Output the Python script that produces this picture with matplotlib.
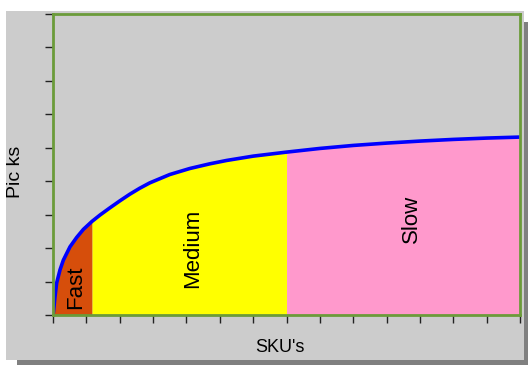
import matplotlib.pyplot as plt
from matplotlib.patches import Rectangle

plt.rcParams['font.family'] = ['Liberation Sans', 'DejaVu Sans']

# cumulative picks against SKUs ranked by popularity
skus = [0, 0.01, 0.06, 0.11, 0.21, 0.31, 0.51, 0.71, 0.91, 1.17, 1.41, 1.7,
        2.0, 2.3, 2.6, 2.9, 3.5, 4.1, 4.7, 5.2, 6.0, 7.0, 8.0, 9.0, 10.0,
        11.0, 12.0, 13.0, 14.0]
picks = [0, 0.06, 0.55, 0.96, 1.35, 1.64, 2.04, 2.32, 2.56, 2.80, 2.99, 3.2,
         3.41, 3.61, 3.79, 3.95, 4.2, 4.38, 4.52, 4.62, 4.75, 4.87, 4.98, 5.07,
         5.14, 5.2, 5.25, 5.29, 5.32]

# zone boundaries on the SKU axis
fast_end = 1.17
medium_end = 7.0
zones = ['Fast', 'Medium', 'Slow']
zone_colors = ['#D64E0B', '#FFFF00', '#FF99CC']

W, H = 528, 365
fig = plt.figure(figsize=(W / 100, H / 100), dpi=100)
fig.patch.set_facecolor('white')

# drop shadow + grey panel
fig.add_artist(Rectangle((17 / W, 0), (528 - 17) / W, 343 / H,
                         transform=fig.transFigure, facecolor='#808080',
                         edgecolor='none', zorder=0))
fig.add_artist(Rectangle((6 / W, 5 / H), (524 - 6) / W, (354 - 5) / H,
                         transform=fig.transFigure, facecolor='#CCCCCC',
                         edgecolor='none', zorder=0))

ax = fig.add_axes([53 / W, 50 / H, (520 - 53) / W, (315 - 14) / H])
ax.set_facecolor('#CCCCCC')
ax.set_xlim(0, 14)
ax.set_ylim(0, 9)

bounds = [0, fast_end, medium_end, 14]
for i, (name, col) in enumerate(zip(zones, zone_colors)):
    lo, hi = bounds[i], bounds[i + 1]
    xs = [x for x in skus if lo <= x <= hi]
    ys = [y for x, y in zip(skus, picks) if lo <= x <= hi]
    ax.fill_between(xs, 0, ys, color=col, linewidth=0, zorder=1)

ax.plot(skus, picks, color='#0000FF', linewidth=2.6, zorder=3,
        solid_joinstyle='round', solid_capstyle='butt')

ax.text(0.69, 0.84, 'Fast', rotation=90, ha='center', va='center', fontsize=16)
ax.text(4.2, 2.0, 'Medium', rotation=90, ha='center', va='center', fontsize=16)
ax.text(10.76, 2.87, 'Slow', rotation=90, ha='center', va='center', fontsize=16)

for s in ax.spines.values():
    s.set_color('#6B9B3A')
    s.set_linewidth(2)
    s.set_zorder(4)

ax.set_xticks(range(15))
ax.set_yticks(range(10))
ax.set_xticklabels([])
ax.set_yticklabels([])
ax.tick_params(direction='out', length=6, width=1, color='#222222')

fig.text(280 / W, (365 - 347) / H, "SKU's", ha='center', va='center', fontsize=13)
fig.text(16 / W, (365 - 172) / H, 'Pic ks', rotation=90, ha='center',
         va='center', fontsize=14)

fig.savefig('out.png', dpi=100)
